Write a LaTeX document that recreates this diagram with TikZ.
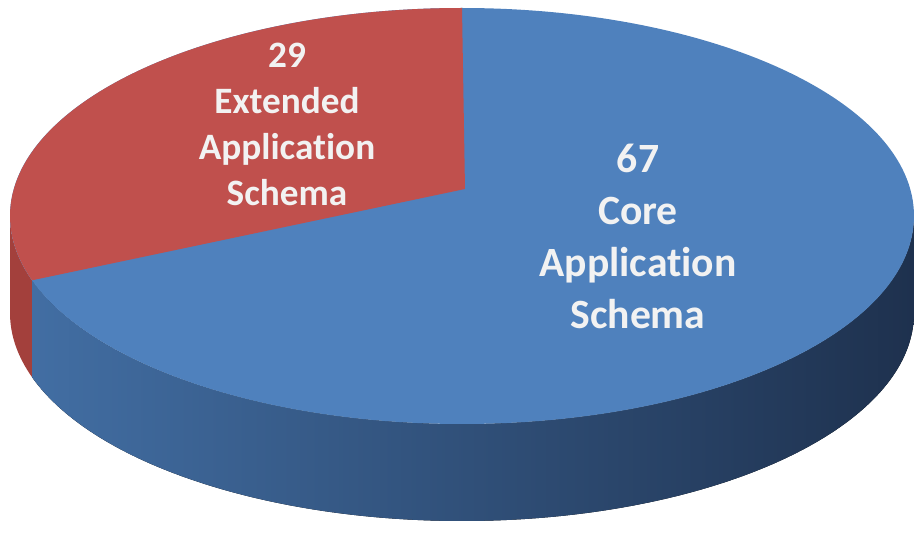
\documentclass[tikz,border=0pt]{standalone}
\usepackage{fontspec}
\setmainfont{Carlito}[Ligatures=NoCommon]
\usetikzlibrary{calc}
\definecolor{pie@blue}{RGB}{79,129,189}
\definecolor{pie@red}{RGB}{192,80,77}
\definecolor{pie@sideblue}{RGB}{66,110,163}
\definecolor{pie@darkblue}{RGB}{30,49,78}
\definecolor{pie@sidered}{RGB}{163,64,60}
\definecolor{pie@text}{RGB}{242,242,242}

\begin{document}
\begin{tikzpicture}[x=0.02cm, y=0.02cm]
\useasboundingbox (0,0) rectangle (914,545);

\begin{scope}[shift={(462,329)}]
  % side of the disc
  \fill[pie@sidered]
    (180:452 and 208) arc[start angle=180, end angle=198, x radius=452, y radius=208]
    -- ++(0,-97) arc[start angle=198, end angle=180, x radius=452, y radius=208]
    -- cycle;
  \fill[
    left color=pie@sideblue,
    right color=pie@darkblue,
  ] (198:452 and 208) arc[start angle=198, end angle=360, x radius=452, y radius=208]
    -- ++(0,-97) arc[start angle=360, end angle=198, x radius=452, y radius=208]
    -- cycle;

  % top face
  \coordinate (hub) at (3,27);
  \fill[pie@blue] (0,0) ellipse[x radius=452, y radius=208];
  \fill[pie@red] (hub) -- (90:452 and 208)
    arc[start angle=90, end angle=198, x radius=452, y radius=208] -- cycle;

  % labels
  \node[
    align=center, text=pie@text,
    font=\bfseries\fontsize{23.7}{29.6}\selectfont,
  ] (core) at (176,-20) {67\\Core\\Application\\Schema};
  \node[
    align=center, text=pie@text,
    font=\bfseries\fontsize{21.2}{26.2}\selectfont,
  ] (extended) at (-175,92) {29\\Extended\\Application\\Schema};
\end{scope}

\end{tikzpicture}
\end{document}
